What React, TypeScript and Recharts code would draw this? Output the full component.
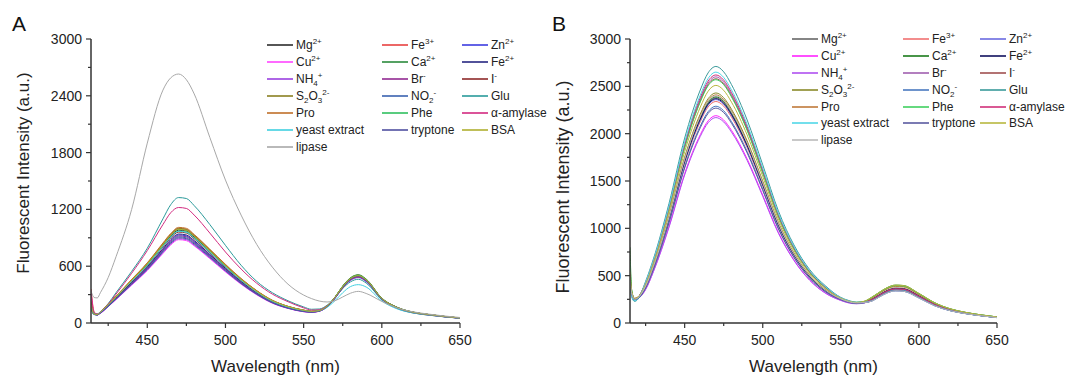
import React from 'react';
import { LineChart, Line, XAxis, YAxis, Legend } from 'recharts';

// wavelengths (nm) sampled for each panel
const WL_A = [414, 416, 418, 420, 425, 430, 440, 450, 460, 465, 470, 475, 480, 490, 500, 510, 520, 530, 540, 550, 555, 560, 565, 570, 575, 580, 585, 590, 600, 610, 620, 630, 640, 650];
const WL_B = [415, 416, 418, 420, 425, 430, 440, 450, 460, 465, 470, 475, 480, 490, 500, 510, 520, 530, 540, 550, 555, 560, 565, 570, 575, 580, 585, 590, 600, 610, 620, 630, 640, 650];

const LABELS = ['Mg^2+', 'Fe^3+', 'Zn^2+', 'Cu^2+', 'Ca^2+', 'Fe^2+', 'NH_4^+', 'Br^-', 'I^-', 'S_2O_3^2-', 'NO_2^-', 'Glu', 'Pro', 'Phe', 'α-amylase', 'yeast extract', 'tryptone', 'BSA', 'lipase'];

const X_TICKS = [425, 450, 475, 500, 525, 550, 575, 600, 625, 650];
const Y_TICKS_A = [0, 300, 600, 900, 1200, 1500, 1800, 2100, 2400, 2700, 3000];
const Y_TICKS_B = [0, 250, 500, 750, 1000, 1250, 1500, 1750, 2000, 2250, 2500, 2750, 3000];

// panel A
const A_MG = [200, 95, 88, 114, 192, 275, 446, 617, 819, 918, 980, 970, 907, 757, 601, 456, 332, 233, 171, 132, 120, 130, 178, 270, 388, 474, 505, 459, 260, 163, 114, 89, 69, 52];
const A_FE3 = [360, 120, 92, 116, 196, 280, 455, 630, 836, 936, 1000, 989, 926, 772, 614, 466, 339, 238, 175, 135, 122, 131, 176, 264, 376, 460, 490, 446, 253, 159, 111, 87, 67, 52];
const A_ZN = [180, 92, 86, 108, 182, 261, 423, 585, 777, 871, 930, 920, 861, 718, 571, 433, 315, 221, 162, 126, 116, 126, 172, 258, 369, 451, 480, 437, 248, 156, 110, 86, 67, 51];
const A_CU = [300, 100, 85, 102, 172, 247, 400, 554, 735, 824, 880, 870, 815, 680, 540, 410, 298, 209, 154, 119, 112, 124, 172, 263, 379, 465, 495, 451, 256, 160, 112, 88, 68, 52];
const A_CA = [150, 90, 88, 115, 194, 277, 450, 623, 827, 927, 990, 979, 916, 764, 607, 461, 335, 236, 173, 134, 122, 132, 180, 273, 391, 479, 510, 464, 263, 165, 115, 90, 70, 53];
const A_FE2 = [170, 92, 87, 109, 184, 264, 428, 592, 786, 881, 940, 930, 871, 726, 577, 438, 318, 224, 164, 127, 119, 129, 177, 268, 384, 470, 500, 455, 258, 162, 113, 89, 69, 52];
const A_NH4 = [210, 96, 86, 104, 174, 250, 405, 560, 744, 834, 890, 881, 824, 688, 546, 414, 301, 212, 155, 120, 113, 124, 170, 260, 372, 456, 485, 441, 250, 157, 110, 86, 67, 51];
const A_BR = [190, 94, 88, 107, 180, 258, 419, 580, 769, 862, 920, 911, 852, 711, 565, 429, 312, 219, 161, 125, 118, 129, 177, 268, 384, 470, 500, 455, 258, 162, 113, 89, 69, 52];
const A_I = [220, 95, 89, 112, 188, 269, 437, 604, 803, 899, 960, 950, 889, 742, 589, 447, 325, 229, 168, 130, 120, 129, 175, 265, 380, 465, 495, 450, 255, 160, 112, 88, 68, 52];
const A_S2O3 = [200, 96, 90, 116, 196, 280, 455, 630, 836, 936, 1000, 989, 926, 772, 614, 466, 339, 238, 175, 135, 123, 132, 179, 268, 384, 470, 500, 455, 258, 162, 113, 89, 69, 53];
const A_NO2 = [160, 90, 86, 106, 178, 255, 414, 573, 761, 852, 910, 900, 843, 703, 559, 424, 308, 217, 159, 123, 116, 127, 174, 263, 377, 461, 490, 446, 253, 159, 111, 87, 68, 52];
const A_GLU = [200, 100, 95, 120, 205, 320, 545, 790, 1100, 1250, 1325, 1315, 1240, 1040, 820, 610, 440, 320, 235, 170, 145, 148, 188, 268, 365, 435, 462, 422, 248, 152, 106, 83, 65, 50];
const A_PRO = [230, 97, 90, 118, 198, 283, 460, 636, 845, 946, 1010, 1000, 935, 780, 620, 470, 342, 241, 176, 137, 124, 133, 180, 271, 388, 474, 505, 459, 260, 163, 114, 89, 69, 53];
const A_PHE = [170, 93, 88, 113, 190, 272, 441, 610, 811, 908, 970, 959, 898, 749, 595, 451, 328, 231, 169, 131, 121, 131, 179, 271, 388, 474, 505, 459, 260, 163, 114, 89, 69, 53];
const A_AMY = [340, 110, 95, 118, 198, 305, 525, 765, 1040, 1165, 1220, 1210, 1140, 950, 750, 570, 420, 305, 225, 160, 136, 140, 182, 266, 372, 456, 485, 445, 255, 156, 108, 84, 66, 51];
const A_YEAST = [180, 95, 90, 114, 190, 272, 441, 610, 811, 908, 970, 959, 898, 749, 595, 451, 328, 231, 169, 131, 121, 130, 165, 235, 320, 385, 405, 380, 232, 148, 106, 84, 66, 51];
const A_TRYP = [175, 93, 87, 105, 176, 253, 410, 567, 753, 843, 900, 891, 834, 696, 553, 419, 305, 214, 157, 122, 115, 126, 173, 262, 376, 460, 490, 446, 253, 159, 111, 87, 67, 52];
const A_BSA = [190, 94, 89, 115, 194, 277, 450, 623, 827, 927, 990, 979, 916, 764, 607, 461, 335, 236, 173, 134, 122, 131, 178, 269, 384, 470, 500, 455, 258, 162, 113, 89, 69, 53];
const A_LIPASE = [340, 270, 265, 320, 480, 700, 1200, 1900, 2460, 2590, 2630, 2570, 2420, 1960, 1510, 1140, 830, 590, 410, 295, 258, 232, 222, 235, 275, 315, 334, 312, 228, 158, 118, 94, 74, 58];

// panel B
const B_MG = [450, 320, 250, 263, 387, 595, 1111, 1716, 2163, 2321, 2380, 2331, 2212, 1885, 1468, 1042, 724, 496, 347, 255, 225, 212, 220, 254, 303, 348, 370, 366, 289, 199, 140, 105, 80, 60];
const B_FE3 = [520, 330, 248, 260, 380, 585, 1092, 1687, 2126, 2282, 2340, 2291, 2174, 1853, 1443, 1024, 712, 488, 341, 250, 222, 210, 218, 247, 295, 339, 360, 356, 281, 194, 138, 104, 79, 59];
const B_ZN = [420, 310, 245, 258, 383, 590, 1101, 1701, 2143, 2300, 2360, 2310, 2192, 1868, 1455, 1032, 718, 492, 344, 252, 222, 209, 215, 233, 279, 320, 340, 336, 265, 183, 130, 99, 76, 57];
const B_CU = [480, 330, 255, 262, 356, 548, 1022, 1579, 1989, 2135, 2190, 2144, 2035, 1734, 1351, 958, 666, 456, 319, 240, 215, 205, 215, 247, 295, 339, 360, 356, 281, 194, 138, 104, 79, 59];
const B_CA = [800, 360, 250, 262, 388, 598, 1116, 1723, 2171, 2331, 2390, 2341, 2221, 1892, 1474, 1046, 727, 498, 349, 258, 228, 216, 228, 274, 328, 376, 400, 396, 312, 215, 150, 112, 85, 64];
const B_FE2 = [440, 315, 248, 260, 385, 593, 1106, 1708, 2153, 2311, 2370, 2321, 2202, 1876, 1462, 1037, 721, 494, 346, 253, 224, 211, 218, 250, 299, 343, 365, 361, 285, 196, 138, 104, 79, 59];
const B_NH4 = [460, 320, 255, 260, 353, 542, 1012, 1564, 1971, 2115, 2170, 2124, 2016, 1718, 1338, 949, 660, 452, 316, 238, 212, 203, 212, 240, 287, 329, 350, 346, 273, 188, 133, 101, 77, 58];
const B_BR = [500, 320, 250, 268, 422, 650, 1213, 1874, 2361, 2534, 2600, 2545, 2415, 2058, 1603, 1137, 791, 542, 379, 265, 230, 213, 218, 240, 287, 329, 350, 346, 273, 188, 133, 101, 77, 58];
const B_I = [480, 320, 252, 268, 419, 645, 1204, 1860, 2344, 2516, 2580, 2526, 2397, 2043, 1591, 1129, 785, 538, 376, 264, 230, 213, 220, 247, 295, 339, 360, 356, 281, 194, 138, 104, 79, 59];
const B_S2O3 = [560, 340, 258, 272, 395, 608, 1134, 1752, 2207, 2369, 2430, 2379, 2258, 1924, 1499, 1063, 739, 506, 354, 258, 228, 215, 226, 267, 320, 367, 390, 386, 304, 210, 147, 110, 84, 63];
const B_NO2 = [430, 300, 240, 255, 372, 572, 1068, 1650, 2080, 2232, 2290, 2242, 2127, 1813, 1412, 1002, 696, 477, 334, 248, 220, 208, 214, 233, 279, 320, 340, 336, 265, 183, 130, 99, 76, 57];
const B_GLU = [420, 280, 228, 250, 440, 677, 1264, 1953, 2461, 2642, 2710, 2653, 2518, 2145, 1671, 1185, 824, 565, 395, 270, 238, 220, 222, 240, 287, 329, 350, 346, 273, 188, 133, 101, 77, 58];
const B_PRO = [470, 330, 262, 275, 392, 602, 1124, 1737, 2189, 2349, 2410, 2359, 2239, 1908, 1486, 1054, 733, 502, 351, 257, 227, 214, 224, 264, 316, 362, 385, 381, 300, 207, 145, 108, 82, 62];
const B_PHE = [650, 350, 255, 268, 418, 643, 1200, 1853, 2335, 2506, 2570, 2517, 2388, 2035, 1585, 1125, 782, 536, 375, 264, 232, 218, 228, 271, 324, 372, 395, 391, 308, 212, 149, 111, 85, 64];
const B_AMY = [510, 325, 250, 265, 426, 655, 1223, 1889, 2381, 2555, 2620, 2566, 2435, 2075, 1616, 1147, 797, 546, 382, 266, 232, 214, 220, 247, 295, 339, 360, 356, 281, 194, 138, 104, 79, 59];
const B_YEAST = [430, 290, 235, 255, 431, 662, 1236, 1910, 2407, 2583, 2650, 2594, 2462, 2098, 1634, 1159, 806, 552, 386, 268, 235, 218, 220, 236, 283, 324, 345, 341, 269, 185, 132, 100, 77, 57];
const B_TRYP = [440, 310, 248, 258, 369, 568, 1060, 1637, 2062, 2214, 2270, 2223, 2110, 1797, 1400, 993, 691, 473, 331, 246, 219, 207, 214, 236, 283, 324, 345, 341, 269, 185, 132, 100, 77, 57];
const B_BSA = [540, 340, 258, 270, 408, 628, 1172, 1810, 2280, 2448, 2510, 2458, 2333, 1987, 1548, 1098, 764, 523, 366, 262, 230, 217, 230, 274, 328, 376, 400, 396, 312, 215, 150, 112, 85, 64];
const B_LIPASE = [450, 320, 250, 265, 390, 600, 1120, 1730, 2180, 2340, 2400, 2350, 2230, 1900, 1480, 1050, 730, 500, 350, 255, 225, 212, 216, 233, 279, 320, 340, 336, 265, 183, 130, 99, 76, 57];

const COLORS_A = ['#2b2b2b', '#e8403f', '#3b3be0', '#ff44ff', '#2a8a3c', '#262680', '#9a40e0', '#922a92', '#8e2a2a', '#8a8022', '#3a62b0', '#2a9a9a', '#c0702a', '#30c060', '#d22a80', '#40d0e0', '#5050a0', '#b0b030', '#a8a8a8'];
const COLORS_B = ['#666666', '#f07070', '#6a6ae0', '#ff22ff', '#1a7a1a', '#10105e', '#b050f0', '#a060b0', '#a05050', '#8a8a2a', '#4a7ac0', '#3a9a9a', '#c07a3a', '#40d060', '#d0307a', '#50d8e8', '#5a5aa0', '#b8b840', '#bbbbbb'];

const SERIES_A = [A_MG, A_FE3, A_ZN, A_CU, A_CA, A_FE2, A_NH4, A_BR, A_I, A_S2O3, A_NO2, A_GLU, A_PRO, A_PHE, A_AMY, A_YEAST, A_TRYP, A_BSA, A_LIPASE];
const SERIES_B = [B_MG, B_FE3, B_ZN, B_CU, B_CA, B_FE2, B_NH4, B_BR, B_I, B_S2O3, B_NO2, B_GLU, B_PRO, B_PHE, B_AMY, B_YEAST, B_TRYP, B_BSA, B_LIPASE];

const FONT = '"Liberation Sans", Arial, sans-serif';
const AXIS = '#333';

const buildRows = (wl: number[], series: number[][]) =>
  wl.map((w, i) => {
    const row: any = { wl: w };
    series.forEach((s, k) => { row['s' + k] = s[i]; });
    return row;
  });

// "S_2O_3^2-" -> S<sub>2</sub>O<sub>3</sub><sup>2-</sup>
const renderLabel = (label: string) => {
  const parts: React.ReactNode[] = [];
  let buf = '';
  let i = 0;
  let k = 0;
  const small = { fontSize: 8, lineHeight: 0, position: 'relative' as const };
  while (i < label.length) {
    const c = label[i];
    if (c === '_') {
      if (buf) { parts.push(buf); buf = ''; }
      parts.push(<span key={k++} style={{ ...small, top: 3 }}>{label[i + 1]}</span>);
      i += 2;
    } else if (c === '^') {
      if (buf) { parts.push(buf); buf = ''; }
      parts.push(<span key={k++} style={{ ...small, top: -5 }}>{label.slice(i + 1)}</span>);
      i = label.length;
    } else {
      buf += c;
      i++;
    }
  }
  if (buf) parts.push(buf);
  return parts;
};

const makeLegend = (colors: string[], cols: number[], rowH: number) => () => (
  <div style={{ display: 'grid', gridTemplateColumns: `${cols[0]}px ${cols[1]}px ${cols[2]}px`, fontFamily: FONT, fontSize: 12, color: '#222' }}>
    {LABELS.map((lab, i) => (
      <div key={lab} style={{ display: 'flex', alignItems: 'center', height: rowH, whiteSpace: 'nowrap' }}>
        <svg width={26} height={4} style={{ marginRight: 3, display: 'block' }}>
          <line x1={0} x2={26} y1={2} y2={2} stroke={colors[i]} strokeWidth={1.6} />
        </svg>
        <span>{renderLabel(lab)}</span>
      </div>
    ))}
  </div>
);

const XTick = (props: any) => {
  const { x, y, payload } = props;
  const major = payload.value % 50 === 0;
  return (
    <g>
      <line x1={x} x2={x} y1={y} y2={y + (major ? 5 : 3)} stroke={AXIS} strokeWidth={1.2} />
      {major && (
        <text x={x} y={y + 22} textAnchor="middle" fontSize={14} fill="#222" fontFamily={FONT}>{payload.value}</text>
      )}
    </g>
  );
};

const makeYTick = (step: number) => (props: any) => {
  const { x, y, payload } = props;
  const major = payload.value % step === 0;
  return (
    <g>
      <line x1={x - (major ? 5 : 3)} x2={x} y1={y} y2={y} stroke={AXIS} strokeWidth={1.2} />
      {major && (
        <text x={x - 9} y={y + 5} textAnchor="end" fontSize={14} fill="#222" fontFamily={FONT}>{payload.value}</text>
      )}
    </g>
  );
};

const XTitle = (p: any) => {
  const vb = p.viewBox;
  return (
    <text x={vb.x + vb.width / 2} y={vb.y + 49} textAnchor="middle" fontSize={17} fill="#222" fontFamily={FONT}>Wavelength (nm)</text>
  );
};

const makeYTitle = (cy: number, size: number) => (p: any) => {
  const vb = p.viewBox;
  const cx = vb.x + 23;
  return (
    <text x={cx} y={cy} transform={`rotate(-90, ${cx}, ${cy})`} textAnchor="middle" dominantBaseline="central" fontSize={size} fill="#222" fontFamily={FONT}>Fluorescent Intensity (a.u.)</text>
  );
};

type PanelProps = {
  letter: string;
  left: number;
  width: number;
  yAxisW: number;
  right: number;
  wl: number[];
  series: number[][];
  colors: string[];
  yTicks: number[];
  yStep: number;
  legendPos: { left: number; top: number };
  legendCols: number[];
  rowH: number;
  yTitleCy: number;
  yTitleSize: number;
};

const Panel = (p: PanelProps) => {
  const data = buildRows(p.wl, p.series);
  const YTitle = makeYTitle(p.yTitleCy, p.yTitleSize);
  return (
    <div style={{ position: 'absolute', left: p.left, top: 0, width: p.width, height: 376 }}>
      <LineChart width={p.width} height={376} data={data} margin={{ top: 39, right: p.right, bottom: 0, left: 0 }}>
        <XAxis
          dataKey="wl"
          type="number"
          domain={[p.wl[0], 650]}
          ticks={X_TICKS}
          interval={0}
          allowDataOverflow
          height={53}
          tickSize={0}
          tickMargin={0}
          tickLine={false}
          tick={<XTick />}
          axisLine={{ stroke: AXIS, strokeWidth: 1.5 }}
          label={{ content: <XTitle /> } as any}
        />
        <YAxis
          type="number"
          domain={[0, 3000]}
          ticks={p.yTicks}
          interval={0}
          allowDataOverflow
          width={p.yAxisW}
          tickSize={0}
          tickMargin={0}
          tickLine={false}
          tick={makeYTick(p.yStep)}
          axisLine={{ stroke: AXIS, strokeWidth: 1.5 }}
          label={{ content: <YTitle /> } as any}
        />
        <Legend
          layout="vertical"
          align="center"
          verticalAlign="middle"
          content={makeLegend(p.colors, p.legendCols, p.rowH)}
          wrapperStyle={{ left: p.legendPos.left, top: p.legendPos.top, width: 300 }}
        />
        {p.series.map((_, k) => (
          <Line
            key={k}
            type="monotone"
            dataKey={'s' + k}
            name={LABELS[k]}
            stroke={p.colors[k]}
            strokeWidth={1}
            dot={false}
            isAnimationActive={false}
          />
        ))}
      </LineChart>
      <div style={{ position: 'absolute', left: 12, top: 12, fontFamily: FONT, fontSize: 21, color: '#111', lineHeight: '24px' }}>{p.letter}</div>
    </div>
  );
};

export default function App() {
  return (
    <div style={{ position: 'absolute', left: 0, top: 0, width: 1083, height: 376, background: '#fff', overflow: 'hidden' }}>
      <Panel
        letter="A"
        left={0}
        width={540}
        yAxisW={91}
        right={80}
        wl={WL_A}
        series={SERIES_A}
        colors={COLORS_A}
        yTicks={Y_TICKS_A}
        yStep={600}
        legendPos={{ left: 267, top: 36 }}
        legendCols={[115, 80, 100]}
        rowH={17}
        yTitleCy={173}
        yTitleSize={17}
      />
      <Panel
        letter="B"
        left={540}
        width={543}
        yAxisW={90}
        right={86}
        wl={WL_B}
        series={SERIES_B}
        colors={COLORS_B}
        yTicks={Y_TICKS_B}
        yStep={500}
        legendPos={{ left: 252, top: 31 }}
        legendCols={[111, 77, 100]}
        rowH={16.8}
        yTitleCy={187}
        yTitleSize={18}
      />
    </div>
  );
}
